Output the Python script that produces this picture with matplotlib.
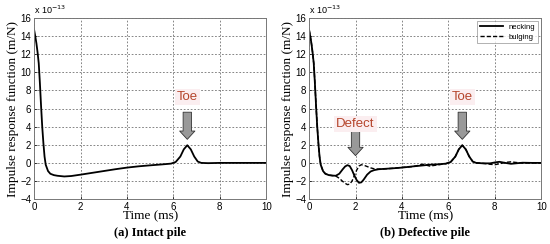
import matplotlib
matplotlib.use("Agg")
import matplotlib.pyplot as plt

# time (ms) and impulse response values (x 1e-13 m/N)
t_intact = [0, 0.05, 0.1, 0.15, 0.2, 0.25, 0.3, 0.35, 0.4, 0.45, 0.5, 0.6, 0.7, 0.85, 1.0,
            1.3, 1.6, 2.0, 2.5, 3.0, 3.5, 4.0, 4.5, 5.0, 5.5, 5.9, 6.1, 6.3, 6.45, 6.6,
            6.75, 6.9, 7.05, 7.2, 7.5, 8.0, 9.0, 10.0]
h_intact = [14.7, 14.0, 13.2, 12.2, 11.0, 8.8, 6.3, 4.0, 2.2, 0.7, -0.2, -0.9, -1.2, -1.35,
            -1.42, -1.5, -1.45, -1.3, -1.1, -0.9, -0.7, -0.52, -0.38, -0.27, -0.17, -0.08,
            0.1, 0.7, 1.5, 1.95, 1.5, 0.7, 0.15, 0.0, -0.03, 0.0, 0.0, 0.0]

t_def = [0, 0.05, 0.1, 0.15, 0.2, 0.25, 0.3, 0.35, 0.4, 0.45, 0.5, 0.6, 0.7, 0.85, 1.0,
         1.15, 1.3, 1.45, 1.55, 1.65, 1.75, 1.85, 1.95, 2.05, 2.15, 2.25, 2.35, 2.5, 2.65,
         2.8, 3.0, 3.3, 3.6, 4.0, 4.5, 4.9, 5.2, 5.6, 5.9, 6.1, 6.3, 6.45, 6.6, 6.75, 6.9,
         7.05, 7.2, 7.5, 7.8, 8.0, 8.2, 8.45, 8.7, 8.9, 9.2, 9.6, 10.0]
h_necking = [14.7, 14.0, 13.2, 12.2, 11.0, 8.8, 6.3, 4.0, 2.2, 0.7, -0.2, -0.9, -1.2, -1.35,
             -1.4, -1.42, -1.2, -0.7, -0.4, -0.25, -0.35, -0.8, -1.4, -1.9, -2.2, -2.15,
             -1.85, -1.3, -0.95, -0.8, -0.7, -0.65, -0.6, -0.52, -0.38, -0.28, -0.2, -0.15,
             -0.08, 0.1, 0.7, 1.5, 1.95, 1.5, 0.7, 0.15, 0.0, -0.05, -0.05, 0.05, 0.12,
             0.0, -0.1, -0.05, 0.02, 0.0, 0.0]
h_bulging = [14.7, 14.0, 13.2, 12.2, 11.0, 8.8, 6.3, 4.0, 2.2, 0.7, -0.2, -0.9, -1.2, -1.35,
             -1.4, -1.45, -1.7, -2.05, -2.25, -2.4, -2.35, -2.0, -1.4, -0.8, -0.35, -0.2,
             -0.25, -0.4, -0.55, -0.65, -0.7, -0.65, -0.6, -0.5, -0.4, -0.15, -0.35, -0.2,
             -0.08, 0.1, 0.7, 1.5, 1.95, 1.5, 0.7, 0.15, 0.0, -0.05, -0.15, -0.2, -0.1,
             0.05, 0.12, 0.05, -0.02, 0.0, 0.0]

xticks = [0, 2, 4, 6, 8, 10]
yticks = [-4, -2, 0, 2, 4, 6, 8, 10, 12, 14, 16]

serif = "Liberation Serif"
sans = "Liberation Sans"
red_txt = "#b5452c"

fig = plt.figure(figsize=(5.5, 2.44), dpi=100)
ax1 = fig.add_axes([0.062, 0.184, 0.422, 0.742])
ax2 = fig.add_axes([0.562, 0.184, 0.422, 0.742])


def style_axes(ax, caption):
    ax.set_xlim(0, 10)
    ax.set_ylim(-4, 16)
    ax.set_xticks(xticks)
    ax.set_yticks(yticks)
    ax.tick_params(labelsize=7, length=2, width=0.5, direction="in", pad=2)
    for lab in ax.get_xticklabels() + ax.get_yticklabels():
        lab.set_family(sans)
    ax.grid(True, color="#555555", linestyle=(0, (2.5, 2.5)), linewidth=0.5)
    for s in ax.spines.values():
        s.set_color("#777777")
        s.set_linewidth(0.7)
    ax.set_xlabel("Time (ms)", family=serif, fontsize=9.5, labelpad=-1)
    ax.set_ylabel("Impulse response function (m/N)", family=serif, fontsize=9.5, labelpad=1)
    ax.text(0.0, 1.01, r"x 10$^{-13}$", transform=ax.transAxes, fontsize=6.5,
            family=sans, va="bottom", ha="left")
    ax.text(0.5, -0.185, caption, transform=ax.transAxes, fontsize=9, family=serif,
            fontweight="bold", ha="center", va="center")


def arrow_label(ax, x, y_top, y_tip, label, y_text):
    ax.annotate("", xy=(x, y_tip), xytext=(x, y_top),
                arrowprops=dict(arrowstyle="simple,head_width=1.1,head_length=0.6,tail_width=0.6",
                                fc="#999999", ec="#333333", lw=0.6, shrinkA=0, shrinkB=0))
    ax.text(x, y_text, label, color=red_txt, fontsize=9.5, family=sans, ha="center", va="center",
            bbox=dict(boxstyle="square,pad=0.15", fc="#fbeef0", ec="none"))


style_axes(ax1, "(a) Intact pile")
ax1.plot(t_intact, h_intact, color="black", lw=1.3)
arrow_label(ax1, 6.6, 5.6, 2.6, "Toe", 7.3)

style_axes(ax2, "(b) Defective pile")
ax2.plot(t_def, h_necking, color="black", lw=1.3, label="necking")
ax2.plot(t_def, h_bulging, color="black", lw=1.0, ls=(0, (3, 1.5)), label="bulging")
arrow_label(ax2, 2.0, 3.5, 0.8, "Defect", 4.3)
arrow_label(ax2, 6.6, 5.6, 2.6, "Toe", 7.3)
leg = ax2.legend(loc="upper right", prop={"family": sans, "size": 5.5}, frameon=True,
                 fancybox=False, edgecolor="#777777", handlelength=3, borderpad=0.35,
                 labelspacing=0.3, borderaxespad=0.4)
leg.get_frame().set_linewidth(0.5)

fig.savefig("out.png", dpi=100)
